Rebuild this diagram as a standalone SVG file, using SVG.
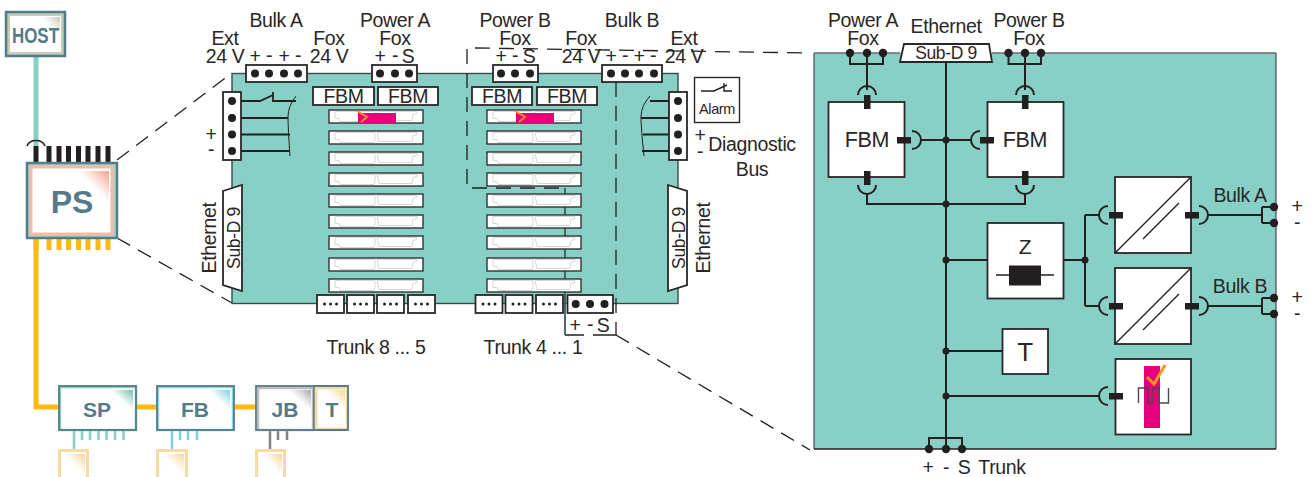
<svg xmlns="http://www.w3.org/2000/svg" xmlns:xlink="http://www.w3.org/1999/xlink" width="1313" height="477" viewBox="0 0 1313 477">
<style>
text{font-family:"Liberation Sans",Arial,sans-serif;fill:#2a2627;font-size:19.500px;letter-spacing:-.35px;text-anchor:middle}
.b{font-weight:bold;fill:#557a88;letter-spacing:0}
.w{fill:#fff;stroke:#2a2627;stroke-width:1.8}
.l{fill:none;stroke:#231f20;stroke-width:2}
.t{fill:none;stroke:#231f20;stroke-width:1.4}
.d{fill:#231f20;stroke:none}
.p{fill:#231f20;stroke:none}
.dash{fill:none;stroke:#231f20;stroke-width:1.3;stroke-dasharray:15 9}
.out{fill:none;stroke:#557a88;stroke-width:2.5}
.s{font-size:17.500px}
</style>
<defs>
<linearGradient id="gGrey" x1="1" y1="0" x2="0" y2="1"><stop offset="0" stop-color="#a9a9a9"/><stop offset=".5" stop-color="#fff"/></linearGradient>
<linearGradient id="gHost" x1="1" y1="0" x2="0" y2="1"><stop offset="0" stop-color="#cfc9b4"/><stop offset=".5" stop-color="#fff"/></linearGradient>
<linearGradient id="gPS" x1="1" y1="0" x2="0" y2="1"><stop offset="0" stop-color="#f4a58c"/><stop offset=".5" stop-color="#fff"/></linearGradient>
<linearGradient id="gSP" x1="1" y1="0" x2="0" y2="1"><stop offset="0" stop-color="#72c0ae"/><stop offset=".5" stop-color="#fff"/></linearGradient>
<linearGradient id="gFB" x1="1" y1="0" x2="0" y2="1"><stop offset="0" stop-color="#7fcfe6"/><stop offset=".5" stop-color="#fff"/></linearGradient>
<linearGradient id="gT" x1="1" y1="0" x2="0" y2="1"><stop offset="0" stop-color="#fbd596"/><stop offset=".5" stop-color="#fff"/></linearGradient>
<g id="slot"><rect x="329" y="110" width="94" height="13" fill="#fff" stroke="#333" stroke-width="1.4"/><path d="M335 111.500h40v7l-1 3h-34l-1-3h-4zM377 111.500h40v2l-4 1-1 6h-33z" fill="#fff" stroke="#d6d6d6" stroke-width="1"/></g>
<g id="tr"><rect width="27" height="18" class="w"/><circle cx="7.500" cy="9" r="1.500" class="d"/><circle cx="13.500" cy="9" r="1.500" class="d"/><circle cx="19.500" cy="9" r="1.500" class="d"/></g>
<g id="conv"><rect x="1115" y="0" width="76" height="76" class="w"/><path class="t" d="M1115 76 1191 0M1143 62 1179 26"/></g>
</defs>

<g id="connectors">
<path d="M36 56V146" stroke="#88d0c4" stroke-width="5" fill="none"/>
<path d="M36 238V407H58M137 407H156M235 407H255" stroke="#fdb913" stroke-width="5" fill="none"/>
<path d="M36 146V162M49 146V162M59 146V162M68.500 146V162M78.500 146V162M88 146V162M98 146V162M108 146V162" stroke="#231f20" stroke-width="5" fill="none"/>
<path d="M27 146A9.500 8 0 0 1 45 146" fill="none" stroke="#231f20" stroke-width="1.600"/>
<path d="M36 238V250M49 238V250M59 238V250M68.500 238V250M78.500 238V250M88 238V250M98 238V250M108 238V250" stroke="#fdb913" stroke-width="5" fill="none"/>
<path d="M74 431V449M82 431V440M90 431V440M98.500 431V440M106.500 431V440M115 431V440M123.500 431V440" stroke="#88d0c4" stroke-width="2.500" fill="none"/>
<path d="M172 431V449M180 431V440M188 431V440M197 431V440" stroke="#7fd0e6" stroke-width="2.500" fill="none"/>
<path d="M270 431V449M278 431V440M287 431V440" stroke="#808285" stroke-width="2.500" fill="none"/>
<path class="dash" d="M117 160 232 73M117 238 232 303M616 335 810 450"/>
</g>

<g id="host"><rect x="6.500" y="12.500" width="58" height="43" fill="#9fd5cb"/><rect x="9" y="15" width="53" height="38" fill="#fff" stroke="#cfc9b4" stroke-width="2"/><path d="M40 17H60V38Z" fill="url(#gHost)"/><rect class="out" x="6" y="12" width="59" height="44"/><text class="b" x="35.500" y="43" textLength="47" lengthAdjust="spacingAndGlyphs" style="font-size:22px">HOST</text></g>

<g id="ps"><rect x="28" y="164" width="88" height="73" fill="#9fd5cb"/><rect x="31" y="167" width="81" height="67" fill="#fff" stroke="#f6b9a3" stroke-width="3"/><path d="M78 171H109V203Z" fill="url(#gPS)"/><rect class="out" x="27" y="163" width="90" height="75"/><text class="b" x="72" y="213" style="font-size:32px">PS</text></g>

<g id="sp"><rect x="60" y="387" width="76" height="43" fill="#fff" stroke="#88d0c4" stroke-width="2.500"/><path d="M110 390H133V411Z" fill="url(#gSP)"/><rect class="out" x="59" y="386" width="77" height="44" style="stroke-width:1.800"/><text class="b" x="97" y="417" style="font-size:21px">SP</text></g>
<g id="fb"><rect x="158" y="387" width="75" height="43" fill="#fff" stroke="#88d6ec" stroke-width="2.500"/><path d="M208 390H230V411Z" fill="url(#gFB)"/><rect class="out" x="157" y="386" width="77" height="44" style="stroke-width:1.800"/><text class="b" x="195" y="417" style="font-size:21px">FB</text></g>
<g id="jb"><rect x="258" y="388" width="55" height="42" fill="#fff" stroke="#bdbdbd" stroke-width="2.500"/><path d="M288 390H311V411Z" fill="url(#gGrey)"/><rect class="out" x="256" y="386" width="58" height="44" style="stroke-width:1.800"/><text class="b" x="285" y="417" style="font-size:21px">JB</text></g>
<g id="t"><rect x="316" y="388" width="31" height="41" fill="#fff" stroke="#fbd9a0" stroke-width="2.500"/><path d="M325 390H345V411Z" fill="url(#gT)"/><path class="out" d="M314 386H348V430H314" style="stroke-width:1.800"/><text class="b" x="332" y="417" style="font-size:21px">T</text></g>
<g id="dev1"><path d="M59.500 477V450.500H87.500V477" fill="#fff" stroke="#fbd9a0" stroke-width="3"/><path d="M63 454H85V476Z" fill="url(#gT)"/></g>
<g id="dev2"><path d="M157.500 477V450.500H186.500V477" fill="#fff" stroke="#fbd9a0" stroke-width="3"/><path d="M162 454H184V476Z" fill="url(#gT)"/></g>
<g id="dev3"><path d="M256.500 477V450.500H284.500V477" fill="#fff" stroke="#fbd9a0" stroke-width="3"/><path d="M261 454H282V476Z" fill="url(#gT)"/></g>

<g id="panel">
<rect x="232" y="73.500" width="446" height="230" fill="#88d0c6" stroke="#3a4a4a" stroke-width="1.400"/>
<path class="t" d="M565 188V335" style="stroke:#3f5a5a;stroke-width:1.800"/>
<g id="slotsA"><use xlink:href="#slot"/><use xlink:href="#slot" y="21"/><use xlink:href="#slot" y="42"/><use xlink:href="#slot" y="63"/><use xlink:href="#slot" y="84"/><use xlink:href="#slot" y="105"/><use xlink:href="#slot" y="126"/><use xlink:href="#slot" y="148"/><use xlink:href="#slot" y="169"/></g>
<g id="slotsB"><use xlink:href="#slot" x="158"/><use xlink:href="#slot" x="158" y="21"/><use xlink:href="#slot" x="158" y="42"/><use xlink:href="#slot" x="158" y="63"/><use xlink:href="#slot" x="158" y="84"/><use xlink:href="#slot" x="158" y="105"/><use xlink:href="#slot" x="158" y="126"/><use xlink:href="#slot" x="158" y="148"/><use xlink:href="#slot" x="158" y="169"/></g>
<rect x="358" y="113" width="38" height="10" fill="#e6007e"/><path d="M357 111 367 117 361 122" fill="none" stroke="#f7941e" stroke-width="2"/>
<rect x="516" y="113" width="38" height="10" fill="#e6007e"/><path d="M515 111 525 117 519 122" fill="none" stroke="#f7941e" stroke-width="2"/>
<g id="fbmS"><rect x="313" y="87" width="61" height="18" class="w"/><text x="343.500" y="102.500">FBM</text><rect x="378" y="87" width="60" height="18" class="w"/><text x="408" y="102.500">FBM</text><rect x="472" y="87" width="60" height="18" class="w"/><text x="502" y="102.500">FBM</text><rect x="537" y="87" width="60" height="18" class="w"/><text x="567" y="102.500">FBM</text></g>
</g>

<g id="dashed"><path class="dash" d="M467 49V188H565"/><path class="dash" d="M475 48 810 53"/><path class="dash" d="M616 82V335"/><path class="t" d="M565 335H584M593 335H616"/></g>

<g id="wiresL"><path class="t" d="M232 101H260L273 95M273 92V101H296M232 118H288M232 134.500H290M232 151H289" style="stroke-width:1.800"/><path class="t" d="M296 96Q288 106 288 117T290 156" style="stroke-width:1"/></g>
<g id="wiresR"><path class="t" d="M678 101H650M678 118H641M678 134.500H643M678 151H642" style="stroke-width:1.800"/><path class="t" d="M650 96Q641 106 641 117T644 156" style="stroke-width:1"/></g>

<g id="bulkA"><rect x="246" y="65" width="61" height="17" class="w"/><circle cx="255" cy="73.500" r="4" class="d"/><circle cx="269" cy="73.500" r="4" class="d"/><circle cx="284" cy="73.500" r="4" class="d"/><circle cx="298" cy="73.500" r="4" class="d"/></g>
<g id="powerA"><rect x="372" y="65" width="45" height="17" class="w"/><circle cx="380" cy="73.500" r="4" class="d"/><circle cx="395" cy="73.500" r="4" class="d"/><circle cx="409" cy="73.500" r="4" class="d"/></g>
<g id="powerB"><rect x="493" y="65" width="45" height="17" class="w"/><circle cx="501" cy="73.500" r="4" class="d"/><circle cx="515" cy="73.500" r="4" class="d"/><circle cx="530" cy="73.500" r="4" class="d"/></g>
<g id="bulkB"><rect x="602" y="65" width="60" height="17" class="w"/><circle cx="611" cy="73.500" r="4" class="d"/><circle cx="625" cy="73.500" r="4" class="d"/><circle cx="639" cy="73.500" r="4" class="d"/><circle cx="654" cy="73.500" r="4" class="d"/></g>
<g id="extL"><rect x="223" y="92" width="18" height="68" class="w"/><circle cx="232" cy="101" r="4" class="d"/><circle cx="232" cy="118" r="4" class="d"/><circle cx="232" cy="134.500" r="4" class="d"/><circle cx="232" cy="151" r="4" class="d"/></g>
<g id="extR"><rect x="669" y="92" width="18" height="68" class="w"/><circle cx="678" cy="101" r="4" class="d"/><circle cx="678" cy="118" r="4" class="d"/><circle cx="678" cy="134.500" r="4" class="d"/><circle cx="678" cy="151" r="4" class="d"/></g>
<g id="subdL"><path d="M223 191 242 185V291L223 285Z" class="w"/><text class="s" transform="translate(240 238) rotate(-90)">Sub-D 9</text></g>
<g id="subdR"><path d="M668 185 687 191V285L668 291Z" class="w"/><text class="s" transform="translate(685 238) rotate(-90)">Sub-D 9</text></g>
<g id="trunks"><use xlink:href="#tr" x="317" y="295"/><use xlink:href="#tr" x="347" y="295"/><use xlink:href="#tr" x="377" y="295"/><use xlink:href="#tr" x="408" y="295"/><use xlink:href="#tr" x="475.500" y="295"/><use xlink:href="#tr" x="505.500" y="295"/><use xlink:href="#tr" x="536" y="295"/><rect x="567.500" y="295" width="45.500" height="18" class="w"/><circle cx="575.700" cy="304" r="4" class="d"/><circle cx="590" cy="304" r="4" class="d"/><circle cx="604.500" cy="304" r="4" class="d"/></g>
<g id="alarm"><rect x="694.500" y="77.500" width="45" height="45" fill="#fff" stroke="#2a2627" stroke-width="1.400"/><path class="t" d="M701 91H714L727 85M724 83V91H732"/><text x="717" y="114" style="font-size:14.500px">Alarm</text></g>

<g id="labels">
<text><tspan x="225" y="45">Ext</tspan><tspan x="225" y="63">24 V</tspan></text>
<text><tspan x="276" y="27">Bulk A</tspan><tspan x="255" y="63">+</tspan><tspan x="269" y="62">-</tspan><tspan x="284" y="63">+</tspan><tspan x="298" y="62">-</tspan></text>
<text><tspan x="329" y="45">Fox</tspan><tspan x="329" y="63">24 V</tspan></text>
<text><tspan x="395" y="27">Power A</tspan><tspan x="395" y="45">Fox</tspan><tspan x="380" y="63">+</tspan><tspan x="395" y="62">-</tspan><tspan x="408" y="63">S</tspan></text>
<text><tspan x="515" y="27">Power B</tspan><tspan x="515" y="45">Fox</tspan><tspan x="501" y="63">+</tspan><tspan x="515" y="62">-</tspan><tspan x="529" y="63">S</tspan></text>
<text><tspan x="581" y="45">Fox</tspan><tspan x="581" y="63">24 V</tspan></text>
<text><tspan x="632" y="27">Bulk B</tspan><tspan x="611" y="63">+</tspan><tspan x="625" y="62">-</tspan><tspan x="639" y="63">+</tspan><tspan x="653" y="62">-</tspan></text>
<text><tspan x="684" y="45">Ext</tspan><tspan x="684" y="63">24 V</tspan></text>
<text><tspan x="211" y="141">+</tspan><tspan x="211" y="156">-</tspan></text>
<text transform="translate(216 238) rotate(-90)">Ethernet</text><text transform="translate(710 238) rotate(-90)">Ethernet</text>
<text><tspan x="700" y="142">+</tspan><tspan x="700" y="158">-</tspan></text>
<text><tspan x="752" y="151">Diagnostic</tspan><tspan x="752" y="176">Bus</tspan></text>
<text x="376" y="354">Trunk 8 ... 5</text><text x="533" y="354">Trunk 4 ... 1</text>
<text><tspan x="575" y="332">+</tspan><tspan x="590" y="331">-</tspan><tspan x="603" y="332">S</tspan></text>
</g>

<g id="detail">
<rect x="814" y="53" width="462" height="396" fill="#88d0c6"/>
<path d="M814 53V449M1276 53V449" fill="none" stroke="#4a4a4a" stroke-width="1.200"/>
<path d="M814 53H900M992 53H1276" fill="none" stroke="#6b6b6b" stroke-width="1.400"/>
<path d="M814 449H1276" fill="none" stroke="#231f20" stroke-width="1.400"/>
</g>

<g id="detailWires">
<path class="l" d="M850 53V64H883V53M867 53V90M1008.500 53V64H1041V53M1025 53V90"/>
<path class="l" d="M946 62V449M920 140H972M867 193V204H1025V193M946 260H987M1063 260H1085M1085 215V306M1085 215H1100M1085 306H1100M946 351H1002M946 396H1100M1207 215H1262M1262 207V223M1262 207H1274M1262 223H1274M1207 306H1262M1262 298V314M1262 298H1274M1262 314H1274M929 449V438H962V449"/>
<g class="d"><circle cx="946" cy="140" r="3.500"/><circle cx="946" cy="204" r="3.500"/><circle cx="946" cy="260" r="3.500"/><circle cx="1085" cy="260" r="3.500"/><circle cx="946" cy="351" r="3.500"/><circle cx="946" cy="396" r="3.500"/></g>
<g class="d"><circle cx="850" cy="53" r="4.200"/><circle cx="867" cy="53" r="4.200"/><circle cx="883" cy="53" r="4.200"/><circle cx="1008.500" cy="53" r="4.200"/><circle cx="1025" cy="53" r="4.200"/><circle cx="1041" cy="53" r="4.200"/><circle cx="1274" cy="207" r="4.200"/><circle cx="1274" cy="223" r="4.200"/><circle cx="1274" cy="298" r="4.200"/><circle cx="1274" cy="314" r="4.200"/><circle cx="929" cy="449" r="4.200"/><circle cx="946" cy="449" r="4.200"/><circle cx="962" cy="449" r="4.200"/></g>
<path class="l" d="M858 95A9 9 0 0 1 876 95M1016 95A9 9 0 0 1 1034 95M858 185A9 9 0 0 0 876 185M1016 185A9 9 0 0 0 1034 185M912 131A9 9 0 0 1 912 149M980 131A9 9 0 0 0 980 149M1108 206A9 9 0 0 0 1108 224M1108 297A9 9 0 0 0 1108 315M1108 387A9 9 0 0 0 1108 405M1199 206A9 9 0 0 1 1199 224M1199 297A9 9 0 0 1 1199 315"/>
</g>

<g id="fbmA"><rect x="828.500" y="102" width="76" height="75" class="w"/><text x="867" y="147" style="font-size:21.500px">FBM</text><rect x="864" y="95" width="6.500" height="14" class="p"/><rect x="897" y="137" width="14" height="6.500" class="p"/><rect x="864" y="171" width="6.500" height="14" class="p"/></g>
<g id="fbmB"><rect x="987.500" y="102" width="76" height="75" class="w"/><text x="1025" y="147" style="font-size:21.500px">FBM</text><rect x="1022" y="95" width="6.500" height="14" class="p"/><rect x="980" y="137" width="14" height="6.500" class="p"/><rect x="1022" y="171" width="6.500" height="14" class="p"/></g>
<g id="subdD"><path d="M900 62 904 44H989L992 62Z" class="w"/><text x="946" y="59" class="s">Sub-D 9</text></g>
<g id="z"><rect x="987.500" y="223" width="76" height="75.500" class="w"/><text x="1025" y="254" style="font-size:21px">Z</text><path class="t" d="M996 275H1054"/><rect x="1009" y="265.500" width="32" height="20" class="p"/></g>
<g id="conv1"><use xlink:href="#conv" y="177"/><rect x="1109" y="212" width="14" height="6.500" class="p"/><rect x="1185" y="212" width="14" height="6.500" class="p"/></g>
<g id="conv2"><use xlink:href="#conv" y="268"/><rect x="1109" y="303" width="14" height="6.500" class="p"/><rect x="1185" y="303" width="14" height="6.500" class="p"/></g>
<g id="tbox"><rect x="1002.500" y="329" width="45.500" height="45" class="w"/><text x="1025" y="361" style="font-size:26px">T</text></g>
<g id="pulse"><rect x="1115.500" y="359" width="75.500" height="75.500" class="w"/><rect x="1144" y="366" width="16" height="62" fill="#e6007e"/><path d="M1138.500 403V388H1148V403H1153V388H1159V403H1168.500V388" fill="none" stroke="#4a4a4c" stroke-width="1.400"/><path d="M1147 377 1154 384 1165 365" fill="none" stroke="#f7941e" stroke-width="3"/><rect x="1109" y="393" width="14" height="6.500" class="p"/></g>

<g id="detailLabels">
<text><tspan x="863" y="27">Power A</tspan><tspan x="863" y="45">Fox</tspan></text><text x="946" y="33">Ethernet</text><text><tspan x="1029" y="27">Power B</tspan><tspan x="1029" y="45">Fox</tspan></text>
<text x="1240" y="202">Bulk A</text><text x="1240" y="293">Bulk B</text>
<text><tspan x="1297" y="213">+</tspan><tspan x="1297" y="229">-</tspan></text><text><tspan x="1297" y="304">+</tspan><tspan x="1297" y="320">-</tspan></text>
<text y="474"><tspan x="928">+</tspan><tspan x="946">-</tspan><tspan x="964">S</tspan><tspan x="1002">Trunk</tspan></text>
</g>
</svg>
